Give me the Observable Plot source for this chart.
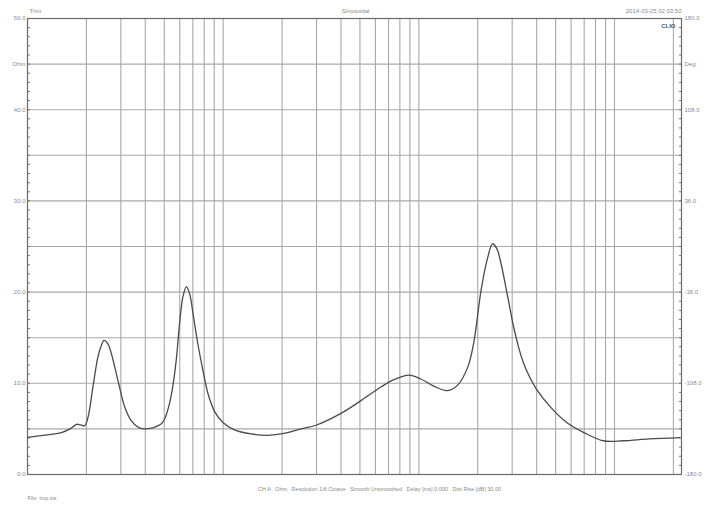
<!DOCTYPE html>
<html>
<head>
<meta charset="utf-8">
<script src="https://cdn.jsdelivr.net/npm/d3@7"></script>
<script src="https://cdn.jsdelivr.net/npm/@observablehq/plot@0.6"></script>
<style>
  html, body { margin: 0; padding: 0; background: #fff; }
  #chart svg { display: block; }
</style>
</head>
<body>
<div id="chart"></div>
<script>
// Impedance curve (Hz, Ohm)
const freqs = [10, 12, 14.9, 16.5, 17.8, 18.7, 19.6, 20.4, 21.6, 22.9, 23.8, 24.6, 25.8, 26.8, 29.0, 31.4, 33.9, 36.7, 39.5, 44, 48, 50, 53.2, 55.4, 57.6, 59.9, 62.3, 64.9, 67.4, 70.2, 74.4, 79, 83.8, 90.5, 99.7, 114, 139, 169, 205, 250, 298, 400, 506, 640, 747, 891, 1018, 1190, 1400, 1580, 1780, 1910, 2080, 2250, 2380, 2500, 2620, 2840, 3050, 3250, 3430, 3700, 3980, 4750, 5700, 6970, 8770, 11100, 15000, 21600];
const ohms  = [4.06, 4.3, 4.6, 5.0, 5.5, 5.45, 5.35, 6.3, 9.6, 12.9, 14.1, 14.7, 14.3, 13.3, 10.3, 7.4, 5.9, 5.2, 5.0, 5.15, 5.5, 6.0, 7.8, 9.8, 12.6, 16.6, 19.5, 20.6, 19.8, 17.6, 14.2, 11.3, 8.8, 6.9, 5.7, 4.9, 4.45, 4.3, 4.5, 5.0, 5.4, 6.7, 8.1, 9.6, 10.4, 10.9, 10.5, 9.7, 9.2, 9.8, 11.8, 14.5, 20.2, 23.8, 25.3, 24.8, 23.3, 19.6, 16.2, 13.8, 12.2, 10.6, 9.4, 7.3, 5.7, 4.6, 3.7, 3.7, 3.9, 4.05];

// Grid and tick values
const xGrid = [20, 30, 40, 50, 60, 70, 80, 90, 100, 200, 300, 400, 500, 600, 700, 800, 900, 1000, 2000, 3000, 4000, 5000, 6000, 7000, 8000, 9000, 10000, 20000];
const yGrid = [5, 10, 15, 20, 25, 30, 35, 40, 45];
const yMinor = d3.range(0, 51, 1);
const xTickValues = [10, 20, 50, 100, 200, 500, 1000, 2000, 3000, 5000, 10000, 20000];
const xTickLabels = ["10", "20", "50", "100", "200", "500", "1k", "2k", "Hz", "5k", "10k", "20k"];
const yLeftValues = [0, 10, 20, 30, 40, 45, 50];
const yLeftLabels = ["0.0", "10.0", "20.0", "30.0", "40.0", "Ohm", "50.0"];
const yRightLabels = ["-180.0", "-108.0", "-36.0", "36.0", "108.0", "Deg", "180.0"];

// Header / footer texts
const titleLeft = "Trim";
const titleCenter = "Sinusoidal";
const titleRight = "2014-03-25 02:33:50";
const infoLine = "CH A   Ohm   Resolution 1/6 Octave   Smooth Unsmoothed   Delay [ms] 0.000   Dist Rise [dB] 30.00";
const fileLine = "File: imp.sis";
const brand = "CLIO";

const data = freqs.map((f, i) => ({f, z: ohms[i]}));
const txtColor = "#8a8a8a";

const chart = Plot.plot({
  width: 708,
  height: 510,
  marginLeft: 27,
  marginRight: 27,
  marginTop: 18,
  marginBottom: 36,
  style: {fontFamily: "Liberation Sans, Arial, sans-serif", fontSize: "6px", background: "#fff", color: txtColor},
  x: {type: "log", domain: [10, 22000]},
  y: {domain: [0, 50]},
  marks: [
    Plot.ruleX(xGrid, {stroke: "#a8a8a8", strokeWidth: 1.1}),
    Plot.ruleY(yGrid, {stroke: "#a8a8a8", strokeWidth: 1.1}),
    Plot.axisY(yMinor, {anchor: "left", tickSize: -3, text: null, stroke: "#777", label: null}),
    Plot.axisY(yMinor, {anchor: "right", tickSize: -3, text: null, stroke: "#777", label: null}),
    Plot.frame({stroke: "#6a6a6a", strokeWidth: 1.2}),
    Plot.line(data, {x: "f", y: "z", stroke: "#4a4a4a", strokeWidth: 1.3, curve: "catmull-rom"}),
    Plot.axisX(xTickValues, {anchor: "bottom", tickSize: 0, tickPadding: 3, tickFormat: (d, i) => xTickLabels[i], label: null, fill: txtColor, fontSize: 6}),
    Plot.axisY(yLeftValues, {anchor: "left", tickSize: 0, tickPadding: 2, tickFormat: (d, i) => yLeftLabels[i], label: null, fill: txtColor, fontSize: 6}),
    Plot.axisY(yLeftValues, {anchor: "right", tickSize: 0, tickPadding: 3, tickFormat: (d, i) => yRightLabels[i], label: null, fill: txtColor, fontSize: 6}),
    Plot.text([titleLeft], {frameAnchor: "top-left", dx: 2, dy: -10, textAnchor: "start", fill: txtColor, fontSize: 6}),
    Plot.text([titleCenter], {frameAnchor: "top", dx: 1, dy: -10, fill: txtColor, fontSize: 6}),
    Plot.text([titleRight], {frameAnchor: "top-right", dx: 0, dy: -10, textAnchor: "end", fill: txtColor, fontSize: 6}),
    Plot.text([brand], {frameAnchor: "top-right", dx: -6, dy: 5, textAnchor: "end", fill: "#555", fontSize: 6, fontWeight: "bold"}),
    Plot.text([infoLine], {frameAnchor: "bottom", dx: 25, dy: 16, fill: txtColor, fontSize: 5.5}),
    Plot.text([fileLine], {frameAnchor: "bottom-left", dx: 0, dy: 25, textAnchor: "start", fill: txtColor, fontSize: 5.5})
  ]
});
document.getElementById("chart").appendChild(chart);
</script>
</body>
</html>
